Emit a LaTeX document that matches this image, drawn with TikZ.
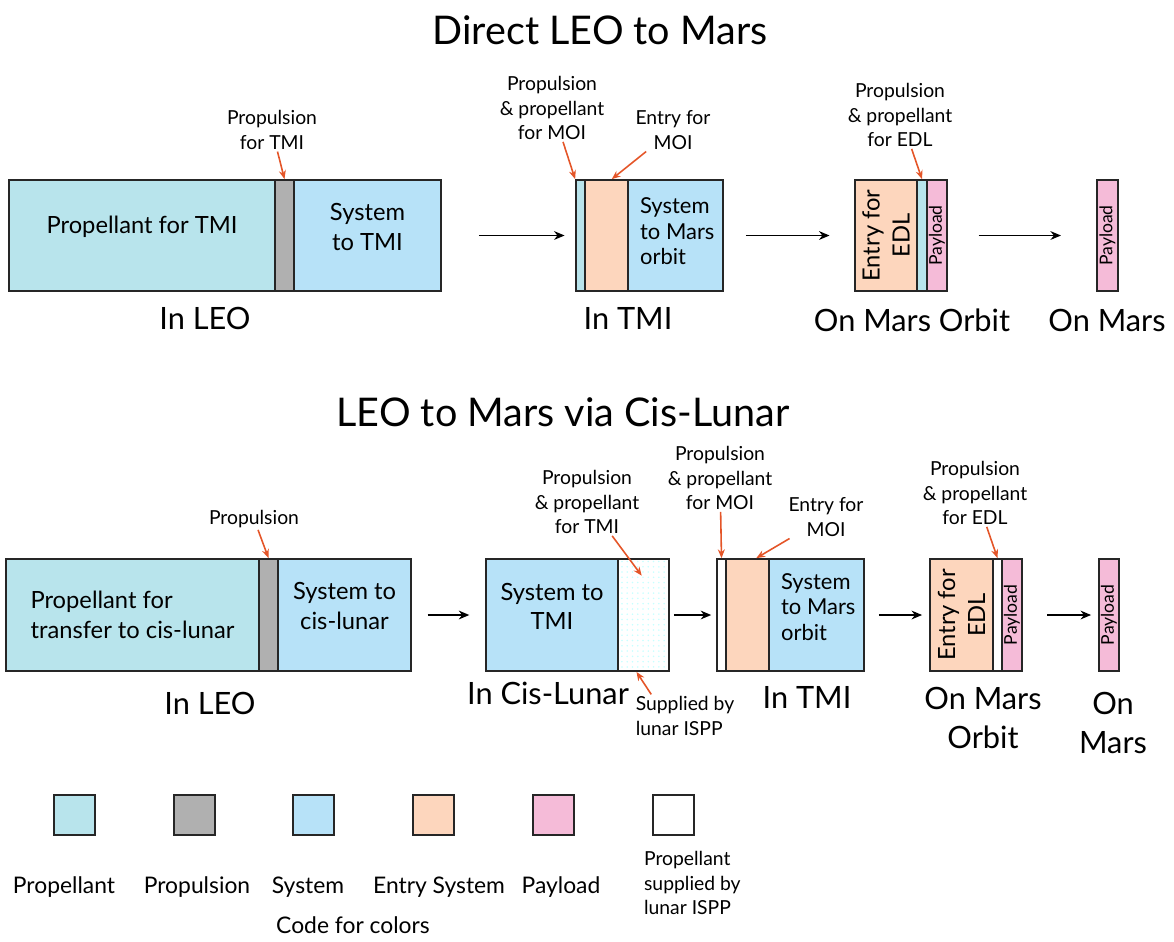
\documentclass[tikz,border=0pt]{standalone}
\usepackage{fontspec}
\setmainfont{Lato}
\usepackage{xcolor}
\definecolor{propcol}{RGB}{184,228,236}
\definecolor{syscol}{RGB}{183,226,248}
\definecolor{drivecol}{RGB}{176,176,176}
\definecolor{entrycol}{RGB}{253,214,189}
\definecolor{paycol}{RGB}{245,187,216}
\definecolor{ptrcol}{RGB}{228,85,40}
\usetikzlibrary{arrows.meta,fit,patterns}
\newcommand\fsTitle{\fontsize{22.5}{27}\selectfont}
\newcommand\fsStage{\fontsize{17.5}{22.7}\selectfont}
\newcommand\fsBox{\fontsize{13.5}{17}\selectfont}
\newcommand\fsSmBox{\fontsize{12.5}{14.5}\selectfont}
\newcommand\fsNote{\fontsize{11}{14}\selectfont}
\newcommand\fsKey{\fontsize{13}{16}\selectfont}
\newcommand\fsPay{\fontsize{10}{12}\selectfont}
\tikzset{
  seg/.style={draw=black!85,line width=1pt,inner sep=0pt,
              align=center,font=\fsBox},
  prop/.style={seg,fill=propcol},
  drive/.style={seg,fill=drivecol},
  sys/.style={seg,fill=syscol},
  entry/.style={seg,fill=entrycol},
  pay/.style={seg,fill=paycol},
  blank/.style={seg,fill=white},
  ispp/.style={seg,pattern=dots,pattern color=cyan!22},
}

\begin{document}
\begin{tikzpicture}[x=0.02cm,y=-0.02cm,
    note/.style={align=center,font=\fsNote,inner sep=1pt},
    stage/.style={align=center,font=\fsStage},
    key/.style={align=center,font=\fsKey},
    ltext/.style={align=left,inner sep=0pt},
    vtext/.style={rotate=90,align=center,font=\fsBox,inner sep=0pt},
    vpay/.style={rotate=90,font=\fsPay,inner sep=0pt},
    flow/.style={-{Stealth[length=6pt,width=5pt]},line width=0.85pt},
    ptr/.style={-{Stealth[length=5pt,width=4pt]},line width=0.9pt,ptrcol},
  ]
  \useasboundingbox (0,0) rectangle (1174,941);

  % Direct LEO to Mars
  \node[font=\fsTitle] (title1) at (600,30) {Direct LEO to Mars};

  \node[prop,fit={(9,180) (275,291)}]   (aProp)  {Propellant for TMI};
  \node[drive,fit={(275,180) (294,291)}] (aDrive) {};
  \node[sys,fit={(294,180) (441,291)}]  (aSys)   {System\\to TMI};

  \node[prop,fit={(576,180) (585,291)}]  (bProp)  {};
  \node[entry,fit={(585,180) (628,291)}] (bEntry) {};
  \node[sys,fit={(628,180) (723,291)}]   (bSys)   {};
  \node[ltext,font=\fsSmBox] (bSysTxt) at ([xshift=1pt,yshift=2.3pt]bSys)
      {System\\to Mars\\orbit};

  \node[entry,fit={(855,180) (917,291)}] (cEntry) {};
  \node[prop,fit={(917,180) (927,291)}]  (cProp)  {};
  \node[pay,fit={(927,180) (947,291)}]   (cPay)   {};
  \node[vtext] (cEntryTxt) at (cEntry) {Entry for\\EDL};
  \node[vpay]  (cPayTxt)   at (cPay)   {Payload};

  \node[pay,fit={(1097,180) (1118,291)}] (dPay) {};
  \node[vpay] (dPayTxt) at (dPay) {Payload};

  \node[note] (aNote)  at (272,130) {Propulsion\\for TMI};
  \node[note] (bNote1) at (552,108) {Propulsion\\\& propellant\\for MOI};
  \node[note] (bNote2) at (673,130) {Entry for\\MOI};
  \node[note] (cNote)  at (900,115) {Propulsion\\\& propellant\\for EDL};

  \draw[ptr] (aNote) -- (aDrive.north);
  \draw[ptr] (bNote1) -- (bProp.north west);
  \draw[ptr] (bNote2) -- ([xshift=3pt]bEntry.north);
  \draw[ptr] (cNote) -- (cProp.north);

  \node[stage] (aStage) at (205,318)  {In LEO};
  \node[stage] (bStage) at (628,318)  {In TMI};
  \node[stage] (cStage) at (912,320)  {On Mars Orbit};
  \node[stage] (dStage) at (1107,320) {On Mars};

  \foreach \a/\b/\s/\e in {aSys/bProp/21pt/6pt,bSys/cEntry/12.5pt/14pt,
                           cPay/dPay/17.5pt/20pt}
    \draw[flow,shorten <=\s,shorten >=\e] (\a) -- (\b);

  % LEO to Mars via Cis-Lunar
  \node[font=\fsTitle] (title2) at (563,412) {LEO to Mars via Cis-Lunar};

  \node[prop,fit={(6,559) (259,671)}]    (eProp)  {};
  \node[ltext,font=\fsBox] (ePropTxt) at (eProp) {Propellant for\\transfer to cis-lunar};
  \node[drive,fit={(259,559) (278,671)}] (eDrive) {};
  \node[sys,fit={(278,559) (411,671)}]   (eSys)   {System to\\cis-lunar};

  \node[sys,fit={(486,559) (618,671)}]   (fSys)   {System to\\TMI};
  \node[ispp,fit={(618,559) (669,671)}]  (fIspp)  {};

  \node[blank,fit={(717,559) (726,671)}] (gIspp)  {};
  \node[entry,fit={(726,559) (769,671)}] (gEntry) {};
  \node[sys,fit={(769,559) (864,671)}]   (gSys)   {};
  \node[ltext,font=\fsSmBox] (gSysTxt) at ([xshift=1pt,yshift=4.5pt]gSys)
      {System\\to Mars\\orbit};

  \node[entry,fit={(930,559) (993,671)}] (hEntry) {};
  \node[blank,fit={(993,559) (1002,671)}] (hIspp) {};
  \node[pay,fit={(1002,559) (1022,671)}] (hPay)   {};
  \node[vtext] (hEntryTxt) at (hEntry) {Entry for\\EDL};
  \node[vpay]  (hPayTxt)   at (hPay)   {Payload};

  \node[pay,fit={(1099,559) (1119,671)}] (iPay) {};
  \node[vpay] (iPayTxt) at (iPay) {Payload};

  \node[note] (eNote)  at (254,519) {Propulsion};
  \node[note] (fNote1) at (587,502) {Propulsion\\\& propellant\\for TMI};
  \node[note,align=left] (fNote2) at (685,716) {Supplied by\\lunar ISPP};
  \node[note] (gNote1) at (720,478) {Propulsion\\\& propellant\\for MOI};
  \node[note] (gNote2) at (826,517) {Entry for\\MOI};
  \node[note] (hNote)  at (975,493) {Propulsion\\\& propellant\\for EDL};

  \draw[ptr] (eNote) -- (eDrive.north);
  \draw[ptr] (fNote1) -- ([xshift=-1pt,yshift=-10pt]fIspp.north);
  \draw[ptr] ([xshift=10pt]fNote2.north west) -- ([xshift=-4pt]fIspp.south);
  \draw[ptr] (gNote1) -- (gIspp.north);
  \draw[ptr] (gNote2) -- ([xshift=5pt]gEntry.north);
  \draw[ptr] (hNote) -- (hIspp.north);

  \node[stage] (eStage) at (210,703)  {In LEO};
  \node[stage] (fStage) at (548,693)  {In Cis-Lunar};
  \node[stage] (gStage) at (807,697)  {In TMI};
  \node[stage] (hStage) at (983,718)  {On Mars\\Orbit};
  \node[stage] (iStage) at (1113,723) {On\\Mars};

  \foreach \a/\b/\s/\e in {eSys/fSys/9pt/9pt,fIspp/gIspp/2.3pt/2.8pt,
                           gSys/hEntry/8pt/4pt,hPay/iPay/14pt/4pt}
    \draw[flow,shorten <=\s,shorten >=\e] (\a) -- (\b);

  % Code for colors
  \foreach \n/\x/\s in {kProp/54/prop,kDrive/174/drive,kSys/293/sys,
                        kEntry/413/entry,kPay/533/pay,kIspp/653/blank}
    \node[\s,fit={(\x,795) (\x+41,835)}] (\n) {};

  \node[key] (kPropTxt)  at (64,887)  {Propellant};
  \node[key] (kDriveTxt) at (197,887) {Propulsion};
  \node[key] (kSysTxt)   at (308,887) {System};
  \node[key] (kEntryTxt) at (439,887) {Entry System};
  \node[key] (kPayTxt)   at (561,887) {Payload};
  \node[note,align=left,anchor=west] (kIsppTxt) at (642,883)
      {Propellant\\supplied by\\lunar ISPP};
  \node[key] (keyTitle) at (353,925) {Code for colors};
\end{tikzpicture}
\end{document}
